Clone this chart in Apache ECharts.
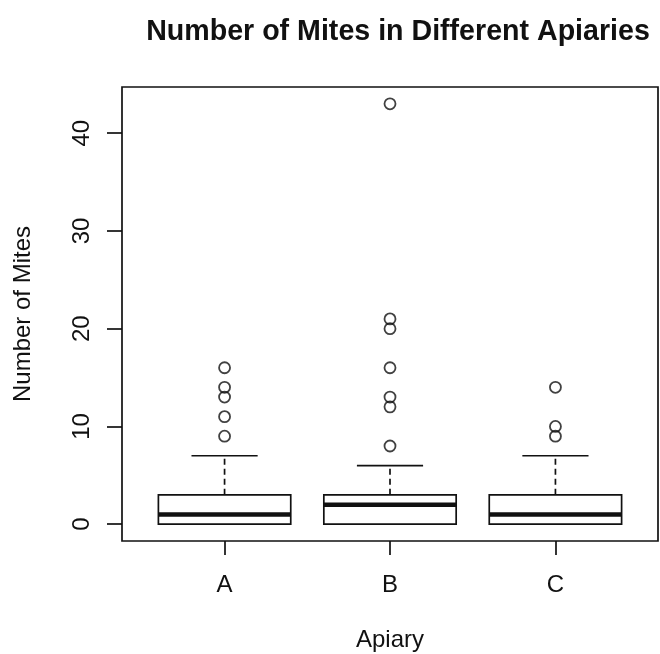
<!DOCTYPE html>
<html>
<head>
<meta charset="utf-8">
<title>Number of Mites in Different Apiaries</title>
<script src="https://cdn.jsdelivr.net/npm/echarts@6/dist/echarts.min.js"></script>
<style>
  html, body { margin: 0; padding: 0; background: #ffffff; }
  #chart { width: 660px; height: 654px; }
</style>
</head>
<body>
<div id="chart"></div>
<script>
// Apiaries along the x axis (placed at positions 1, 2, 3)
const apiaries = ['A', 'B', 'C'];
const positions = [1, 2, 3];

// Five-number summaries per apiary (Tukey boxplot statistics)
const lowerWhisker = [0, 0, 0];
const lowerQuartile = [0, 0, 0];
const medians = [1, 2, 1];
const upperQuartile = [3, 3, 3];
const upperWhisker = [7, 6, 7];

// Points beyond 1.5 * IQR
const outliersA = [9, 11, 13, 14, 16];
const outliersB = [8, 12, 13, 16, 20, 21, 43];
const outliersC = [9, 10, 14];

// Tick labels on the count axis
const yTicks = [0, 10, 20, 30, 40];

// Axis ranges padded by 4% on each side, as in base R graphics
const allValues = [].concat(lowerWhisker, upperWhisker, outliersA, outliersB, outliersC);
const dataMin = Math.min.apply(null, allValues);
const dataMax = Math.max.apply(null, allValues);
const yPad = (dataMax - dataMin) * 0.04;
const yMin = dataMin - yPad;
const yMax = dataMax + yPad;
const xLo = 0.5, xHi = apiaries.length + 0.5;
const xPad = (xHi - xLo) * 0.04;

const boxData = positions.map((p, i) => [
  p, lowerWhisker[i], lowerQuartile[i], medians[i], upperQuartile[i], upperWhisker[i]
]);
const outlierData = [];
[outliersA, outliersB, outliersC].forEach((arr, i) => {
  arr.forEach(v => outlierData.push([positions[i], v]));
});

const FONT = '"Liberation Sans", Arial, Helvetica, sans-serif';
const INK = '#111111';

function renderBox(params, api) {
  const x = api.value(0);
  const lo = api.value(1), q1 = api.value(2), md = api.value(3), q3 = api.value(4), hi = api.value(5);
  const boxW = api.size([0.8, 0])[0];
  const capW = boxW / 2;
  const cx = api.coord([x, q1])[0];
  const yq1 = api.coord([x, q1])[1];
  const yq3 = api.coord([x, q3])[1];
  const ymd = api.coord([x, md])[1];
  const ylo = api.coord([x, lo])[1];
  const yhi = api.coord([x, hi])[1];
  const solid = { stroke: INK, lineWidth: 1.7, fill: null };
  const dashed = { stroke: INK, lineWidth: 1.7, lineDash: [6, 4], fill: null };
  return {
    type: 'group',
    children: [
      { type: 'line', shape: { x1: cx, y1: yq3, x2: cx, y2: yhi }, style: dashed },
      { type: 'line', shape: { x1: cx, y1: yq1, x2: cx, y2: ylo }, style: dashed },
      { type: 'line', shape: { x1: cx - capW / 2, y1: yhi, x2: cx + capW / 2, y2: yhi }, style: solid },
      { type: 'line', shape: { x1: cx - capW / 2, y1: ylo, x2: cx + capW / 2, y2: ylo }, style: solid },
      { type: 'rect', shape: { x: cx - boxW / 2, y: yq3, width: boxW, height: yq1 - yq3 },
        style: { stroke: INK, lineWidth: 1.7, fill: '#ffffff' } },
      { type: 'line', shape: { x1: cx - boxW / 2, y1: ymd, x2: cx + boxW / 2, y2: ymd },
        style: { stroke: INK, lineWidth: 4.5 } }
    ]
  };
}

const chart = echarts.init(document.getElementById('chart'), null, { renderer: 'canvas' });
chart.setOption({
  backgroundColor: '#ffffff',
  animation: false,
  graphic: [{
    type: 'text',
    x: 398,
    y: 32,
    style: {
      text: 'Number of Mites in Different Apiaries',
      font: 'bold 28.6px ' + FONT,
      fill: INK,
      textAlign: 'center',
      textVerticalAlign: 'middle'
    }
  }],
  grid: {
    left: 122, right: 2, top: 87, bottom: 113,
    outerBoundsMode: 'none',
    containLabel: false,
    show: true, borderColor: INK, borderWidth: 1.7, backgroundColor: 'transparent'
  },
  xAxis: {
    type: 'value',
    min: xLo - xPad,
    max: xHi + xPad,
    name: 'Apiary',
    nameLocation: 'middle',
    nameGap: 87,
    nameTextStyle: { fontFamily: FONT, fontSize: 24, color: INK },
    axisLine: { show: false, onZero: false },
    splitLine: { show: false },
    axisTick: { show: true, length: 14, customValues: positions, lineStyle: { color: INK, width: 1.7 } },
    axisLabel: {
      customValues: positions,
      formatter: v => apiaries[positions.indexOf(v)] || '',
      margin: 32, fontFamily: FONT, fontSize: 24, color: INK
    }
  },
  yAxis: {
    type: 'value',
    min: yMin,
    max: yMax,
    name: 'Number of Mites',
    nameLocation: 'middle',
    nameGap: 87,
    nameTextStyle: { fontFamily: FONT, fontSize: 24, color: INK },
    axisLine: { show: false, onZero: false },
    splitLine: { show: false },
    axisTick: { show: true, length: 15, customValues: yTicks, lineStyle: { color: INK, width: 1.7 } },
    axisLabel: {
      customValues: yTicks,
      rotate: 90,
      margin: 28, fontFamily: FONT, fontSize: 24, color: INK
    }
  },
  series: [
    {
      type: 'custom',
      name: 'Mites',
      renderItem: renderBox,
      encode: { x: 0, y: [1, 2, 3, 4, 5] },
      data: boxData,
      z: 2
    },
    {
      type: 'scatter',
      name: 'Outliers',
      data: outlierData,
      symbol: 'circle',
      symbolSize: 11,
      itemStyle: { color: 'rgba(0,0,0,0)', borderColor: INK, borderWidth: 1.8 },
      z: 3
    }
  ]
});
</script>
</body>
</html>
